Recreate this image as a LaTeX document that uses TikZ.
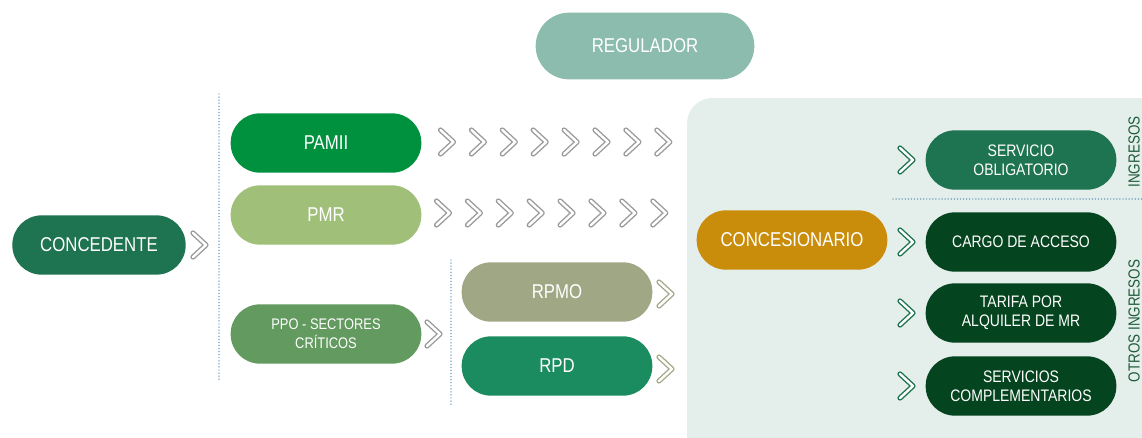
\documentclass[tikz,border=0pt]{standalone}
\usepackage{fontspec}
\setmainfont{Liberation Sans}[FakeStretch=0.84]
\definecolor{regcol}{HTML}{8BBCAE}
\definecolor{concedcol}{HTML}{1E7350}
\definecolor{pamiicol}{HTML}{00913F}
\definecolor{pmrcol}{HTML}{A0BF78}
\definecolor{ppocol}{HTML}{639A5F}
\definecolor{rpmocol}{HTML}{A0A784}
\definecolor{rpdcol}{HTML}{1B8C60}
\definecolor{concescol}{HTML}{C98C0B}
\definecolor{darkcol}{HTML}{04441E}
\definecolor{panelcol}{HTML}{E4EEEA}
\definecolor{dotcol}{HTML}{4A87B5}
\definecolor{chgray}{HTML}{9B9B9B}
\definecolor{cholive}{HTML}{A6A98A}
\definecolor{labcol}{HTML}{1E5C3C}
\begin{document}
\begin{tikzpicture}[x=0.75pt, y=-0.75pt, line join=round, line cap=round]
            \tikzset{pill/.style={rounded corners=22pt, minimum width=143pt, minimum height=44.5pt, inner sep=2pt, text=white, align=center, font=\fontsize{15}{17}\selectfont},
                     small/.style={font=\fontsize{12.5}{14.3}\selectfont},
                     sep/.style={draw=dotcol, line width=1.1pt, dash pattern=on 0pt off 2.3pt},
                     chev/.pic={\draw[line width=1.05pt, double=white, double distance=1.8pt] (-7,-12)--(6,0)--(-7,12);}}
            \useasboundingbox (0,0) rectangle (1142,437);
            \begin{scope}
                \clip (0,0) rectangle (1142,437);
                \fill[panelcol, rounded corners=19pt] (687,98) rectangle (1175,470);
            \end{scope}
            % \draw[help lines] (0,0) grid (1142,437);
            \draw[sep] (219,94)--(219,382);
            \draw[sep] (451,260)--(451,407);
            \draw[sep] (893,199)--(1142,199);
            \node[pill, fill=regcol, minimum width=164pt, minimum height=50pt, rounded corners=25pt] (reg) at (645,46) {REGULADOR};
            \node[pill, fill=concedcol, minimum width=130pt] (conced) at (99,245) {CONCEDENTE};
            \node[pill, fill=pamiicol] (pamii) at (326,143) {PAMII};
            \node[pill, fill=pmrcol] (pmr) at (326,215) {PMR};
            \node[pill, fill=ppocol, font=\fontsize{11.5}{14}\selectfont] (ppo) at (326,334) {PPO - SECTORES\\CRÍTICOS};
            \node[pill, fill=rpmocol] (rpmo) at (557,292) {RPMO};
            \node[pill, fill=rpdcol] (rpd) at (557,366) {RPD};
            \node[pill, fill=concescol] (conces) at (792,240) {CONCESIONARIO};
            \node[pill, small, fill=concedcol] (servob) at (1021,160) {SERVICIO\\OBLIGATORIO};
            \node[pill, small, fill=darkcol] (cargo) at (1021,242) {CARGO DE ACCESO};
            \node[pill, small, fill=darkcol] (tarifa) at (1021,313) {TARIFA POR\\ALQUILER DE MR};
            \node[pill, small, fill=darkcol] (servcomp) at (1021,386) {SERVICIOS\\COMPLEMENTARIOS};
            \node[rotate=90, text=labcol, font=\fontsize{12}{14}\selectfont] (ingr) at (1134,152) {INGRESOS};
            \node[rotate=90, text=labcol, font=\fontsize{12}{14}\selectfont] (otros) at (1134,321) {OTROS INGRESOS};
            % chevrons
            \pic[color=chgray] at (200,245) {chev};
            \pic[color=chgray] at (434,334) {chev};
            \foreach \i in {0,...,7} {
                \pic[color=chgray] at (447.5+30.9*\i,142) {chev};
                \pic[color=chgray] at (443.5+30.9*\i,213) {chev};
            }
            \pic[color=cholive] at (666,294) {chev};
            \pic[color=cholive] at (666,369) {chev};
            \foreach \y in {160,242,313,386}
                \pic[color=concedcol] at (907,\y) {chev};
        \end{tikzpicture}
\end{document}
